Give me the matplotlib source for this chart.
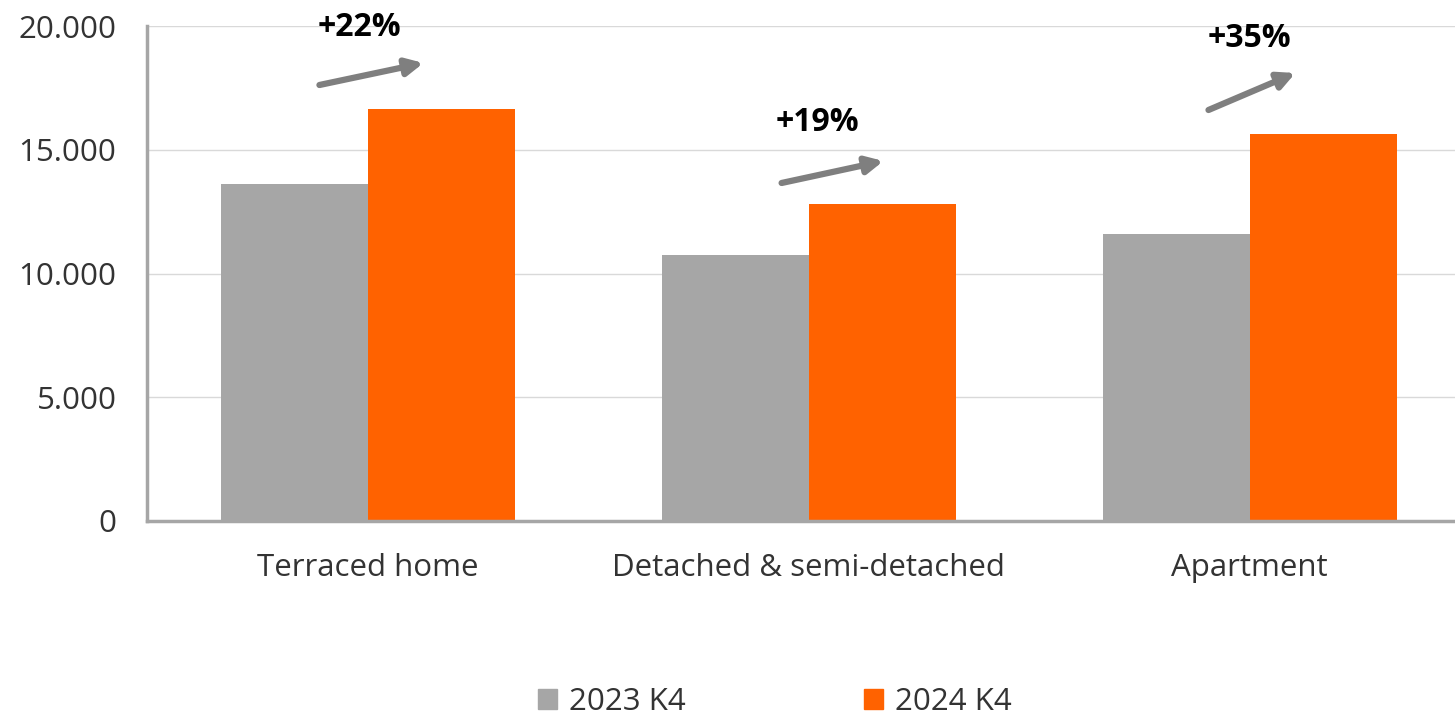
import numpy as np
import matplotlib.pyplot as plt
from matplotlib.patches import Patch

# house sales by dwelling type, Q4 2023 vs Q4 2024
categories = ["Terraced home", "Detached & semi-detached", "Apartment"]
series_names = ["2023 K4", "2024 K4"]
sales_2023 = [13620, 10750, 11600]
sales_2024 = [16650, 12810, 15640]

GREY = "#a6a6a6"
ORANGE = "#ff6200"
TEXT = "#333333"

plt.rcParams["font.family"] = ["Open Sans", "DejaVu Sans"]

fig = plt.figure(figsize=(14.55, 7.17), dpi=100)
ax = fig.add_axes([147 / 1455, 1 - 521 / 717, (1470 - 147) / 1455, (521 - 26) / 717])

x = np.arange(len(categories))
w = 1 / 3
ax.bar(x - w / 2, sales_2023, width=w, color=GREY, zorder=2)
ax.bar(x + w / 2, sales_2024, width=w, color=ORANGE, zorder=2)

ax.set_xlim(-0.5, 2.5)
ax.set_ylim(0, 20000)
ax.set_yticks(np.arange(0, 20001, 5000))
ax.set_yticklabels([f"{v:,}".replace(",", ".") for v in range(0, 20001, 5000)])
ax.set_xticks(x)
ax.set_xticklabels(categories)
ax.tick_params(axis="both", length=0, labelsize=22.5, colors=TEXT)
ax.tick_params(axis="y", pad=22)
ax.tick_params(axis="x", pad=23)
ax.grid(axis="y", color="#d9d9d9", linewidth=1, zorder=0)

for side in ["top", "right"]:
    ax.spines[side].set_visible(False)
for side in ["left", "bottom"]:
    ax.spines[side].set_color(GREY)
    ax.spines[side].set_linewidth(2.5)

# growth arrows and percentage labels
arrows = [((-0.109, 17616), (0.127, 18505)),
          ((-0.061, 13657), (0.170, 14545)),
          ((-0.093, 16606), (0.104, 18101))]
label_pos = [(-0.018, 19950), (0.020, 16100), (0.0, 19500)]
for i in range(len(categories)):
    (x0, y0), (x1, y1) = arrows[i]
    ax.annotate("", xy=(i + x1, y1), xytext=(i + x0, y0),
                arrowprops=dict(arrowstyle="-|>,head_length=1.0,head_width=0.5",
                                color="#7f7f7f", lw=4.5, shrinkA=0, shrinkB=0),
                annotation_clip=False, zorder=3)
    pct = round((sales_2024[i] / sales_2023[i] - 1) * 100)
    lx, ly = label_pos[i]
    ax.text(i + lx, ly, f"+{pct}%", ha="center", va="center", fontsize=23,
            fontweight="bold", color="black", clip_on=False, zorder=3)

handles = [Patch(color=GREY), Patch(color=ORANGE)]
fig.legend(handles, series_names, loc="center", bbox_to_anchor=(775 / 1455, 1 - 702 / 717),
           ncol=2, frameon=False, fontsize=22.5, handlelength=0.6, handleheight=0.6,
           handletextpad=0.4, columnspacing=5.7, labelcolor=TEXT)

fig.savefig("out.png", dpi=100)
